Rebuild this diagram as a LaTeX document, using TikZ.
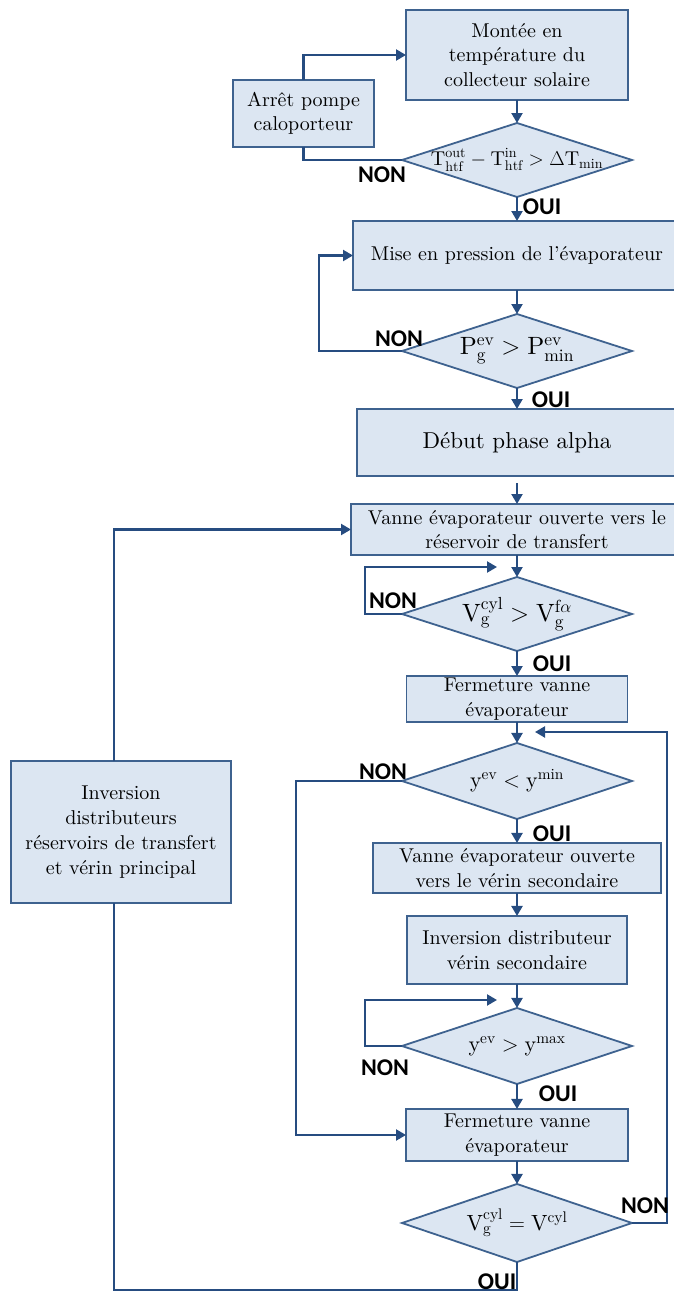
\RequirePackage{fix-cm}
\documentclass[tikz,border=0pt]{standalone}
\usepackage{amsmath,amssymb}
\usepackage{fontspec}
\setmainfont{lmroman10-regular.otf}
\usepackage{xcolor}
\usepackage{tikz}
\usetikzlibrary{shapes.geometric, arrows.meta, positioning, calc}
\newfontfamily\lblfont{Carlito}
\definecolor{boxfill}{RGB}{220,230,242}
\definecolor{boxline}{RGB}{62,98,143}
\definecolor{flowline}{RGB}{38,76,128}
\tikzset{
  box/.style={rectangle, draw=boxline, fill=boxfill, line width=1.8pt, outer sep=0pt,
    align=center, inner sep=2pt, font=\fontsize{20}{24.5}\selectfont},
  dec/.style={diamond, aspect=3.1, draw=boxline, fill=boxfill, line width=1.8pt,
    outer sep=0pt, minimum width=230pt, minimum height=74pt, inner sep=-4pt,
    font=\fontsize{22}{26}\selectfont},
  lbl/.style={font=\lblfont\bfseries\fontsize{24}{24}\selectfont, inner sep=0pt},
  arrow/.style={-{Triangle[length=10pt,width=11pt]}, line width=2.2pt, draw=flowline},
  line/.style={line width=2.2pt, draw=flowline}
}

\begin{document}
\begin{tikzpicture}[x=1pt, y=1pt, node distance=24pt]
  \useasboundingbox (0,0) rectangle (673,-1295);

  % main column
  \node[box, minimum width=222pt, minimum height=90pt] (montee) at (517,-55)
    {Montée en\\température du\\collecteur solaire};
  \node[dec, below=23pt of montee, font=\fontsize{20}{24}\selectfont] (cond1)
    {$\mathrm{T}^{\mathrm{out}}_{\mathrm{htf}}-\mathrm{T}^{\mathrm{in}}_{\mathrm{htf}}>\Delta\mathrm{T}_{\mathrm{min}}$};
  \node[box, below=of cond1, minimum width=328pt, minimum height=69pt] (mise)
    {Mise en pression de l’évaporateur};
  \node[dec, below=of mise, font=\fontsize{25}{28}\selectfont] (cond2)
    {$\mathrm{P}^{\mathrm{ev}}_{\mathrm{g}}>\mathrm{P}^{\mathrm{ev}}_{\mathrm{min}}$};
  \node[box, below=21pt of cond2, minimum width=320pt, minimum height=67pt,
    font=\fontsize{23}{27}\selectfont] (debut) {Début phase alpha};
  \node[box, below=28pt of debut, minimum width=332pt, minimum height=51pt] (vanne)
    {Vanne évaporateur ouverte vers le\\réservoir de transfert};
  \node[dec, below=22pt of vanne, font=\fontsize{25}{28}\selectfont] (cond3)
    {$\mathrm{V}^{\mathrm{cyl}}_{\mathrm{g}}>\mathrm{V}^{\mathrm{f}\alpha}_{\mathrm{g}}$};
  \node[box, below=25pt of cond3, minimum width=221pt, minimum height=44pt] (ferm)
    {Fermeture vanne\\évaporateur};
  \node[dec, below=21pt of ferm, minimum height=76pt] (cond4)
    {$\mathrm{y}^{\mathrm{ev}}<\mathrm{y}^{\mathrm{min}}$};
  \node[box, below=of cond4, minimum width=288pt, minimum height=50pt] (vanneb)
    {Vanne évaporateur ouverte\\vers le vérin secondaire};
  \node[box, below=23pt of vanneb, minimum width=220pt, minimum height=68pt] (invsec)
    {Inversion distributeur\\vérin secondaire};
  \node[dec, below=of invsec, minimum height=76pt] (cond5)
    {$\mathrm{y}^{\mathrm{ev}}>\mathrm{y}^{\mathrm{max}}$};
  \node[box, below=25pt of cond5, minimum width=222pt, minimum height=52pt] (fermb)
    {Fermeture vanne\\évaporateur};
  \node[dec, below=23pt of fermb, minimum height=78pt] (cond6)
    {$\mathrm{V}^{\mathrm{cyl}}_{\mathrm{g}}=\mathrm{V}^{\mathrm{cyl}}$};

  % side boxes
  \node[box, minimum width=141pt, minimum height=67pt] (arret) at (303.5,-113.5)
    {Arrêt pompe\\caloporteur};
  \node[box, minimum width=220pt, minimum height=142pt,
    font=\fontsize{20}{25}\selectfont] (invdist) at (121,-832)
    {Inversion\\distributeurs\\réservoirs de transfert\\et vérin principal};

  % loop ends
  \coordinate (back3) at ([shift={(-20pt,10pt)}]cond3.north);
  \coordinate (back4) at ([shift={(18pt,11pt)}]cond4.north);
  \coordinate (back5) at ([shift={(-20pt,8pt)}]cond5.north);

  % connectors
  \draw[arrow] (arret.north) |- (montee.west);
  \draw[arrow] (montee) -- (cond1);
  \draw[line] (cond1.west) -| (arret.south);
  \draw[arrow] (cond1) -- (mise);
  \draw[arrow] (mise) -- (cond2);
  \draw[arrow] (cond2.west) -- ++(-83pt,0) |- (mise.west);
  \draw[arrow] (cond2) -- (debut);
  \draw[arrow] ([yshift=-7pt]debut.south) -- (vanne);
  \draw[arrow] (vanne) -- (cond3);
  \draw[arrow] (cond3.west) -- ++(-37pt,0) |- (back3);
  \draw[arrow] (cond3) -- (ferm);
  \draw[arrow] (ferm) -- (cond4);
  \draw[arrow] (cond4.west) -- ++(-106pt,0) |- (fermb.west);
  \draw[arrow] (cond4) -- (vanneb);
  \draw[arrow] (vanneb) -- (invsec);
  \draw[arrow] (invsec) -- (cond5);
  \draw[arrow] (cond5.west) -- ++(-37pt,0) |- (back5);
  \draw[arrow] (cond5) -- (fermb);
  \draw[arrow] (fermb) -- (cond6);
  \draw[arrow] (cond6.east) -- ++(35pt,0) |- (back4);
  \draw[line] (cond6.south) -- ++(0,-28pt) -| ([xshift=-7pt]invdist.south);
  \draw[arrow] ([xshift=-7pt]invdist.north) |- (vanne.west);

  % OUI / NON
  \node[lbl] (non1) at ([shift={(-20pt,-15pt)}]cond1.west) {NON};
  \node[lbl] (oui1) at ([shift={(25pt,-10pt)}]cond1.south) {OUI};
  \node[lbl] (non2) at ([shift={(-3pt,12pt)}]cond2.west) {NON};
  \node[lbl] (oui2) at ([shift={(34pt,-12pt)}]cond2.south) {OUI};
  \node[lbl] (non3) at ([shift={(-9pt,13pt)}]cond3.west) {NON};
  \node[lbl] (oui3) at ([shift={(35pt,-13pt)}]cond3.south) {OUI};
  \node[lbl] (non4) at ([shift={(-19pt,9pt)}]cond4.west) {NON};
  \node[lbl] (oui4) at ([shift={(35pt,-15pt)}]cond4.south) {OUI};
  \node[lbl] (non5) at ([shift={(-17pt,-22pt)}]cond5.west) {NON};
  \node[lbl] (oui5) at ([shift={(41pt,-10pt)}]cond5.south) {OUI};
  \node[lbl] (non6) at ([shift={(13pt,17pt)}]cond6.east) {NON};
  \node[lbl] (oui6) at ([shift={(-20pt,-20pt)}]cond6.south) {OUI};
\end{tikzpicture}
\end{document}
